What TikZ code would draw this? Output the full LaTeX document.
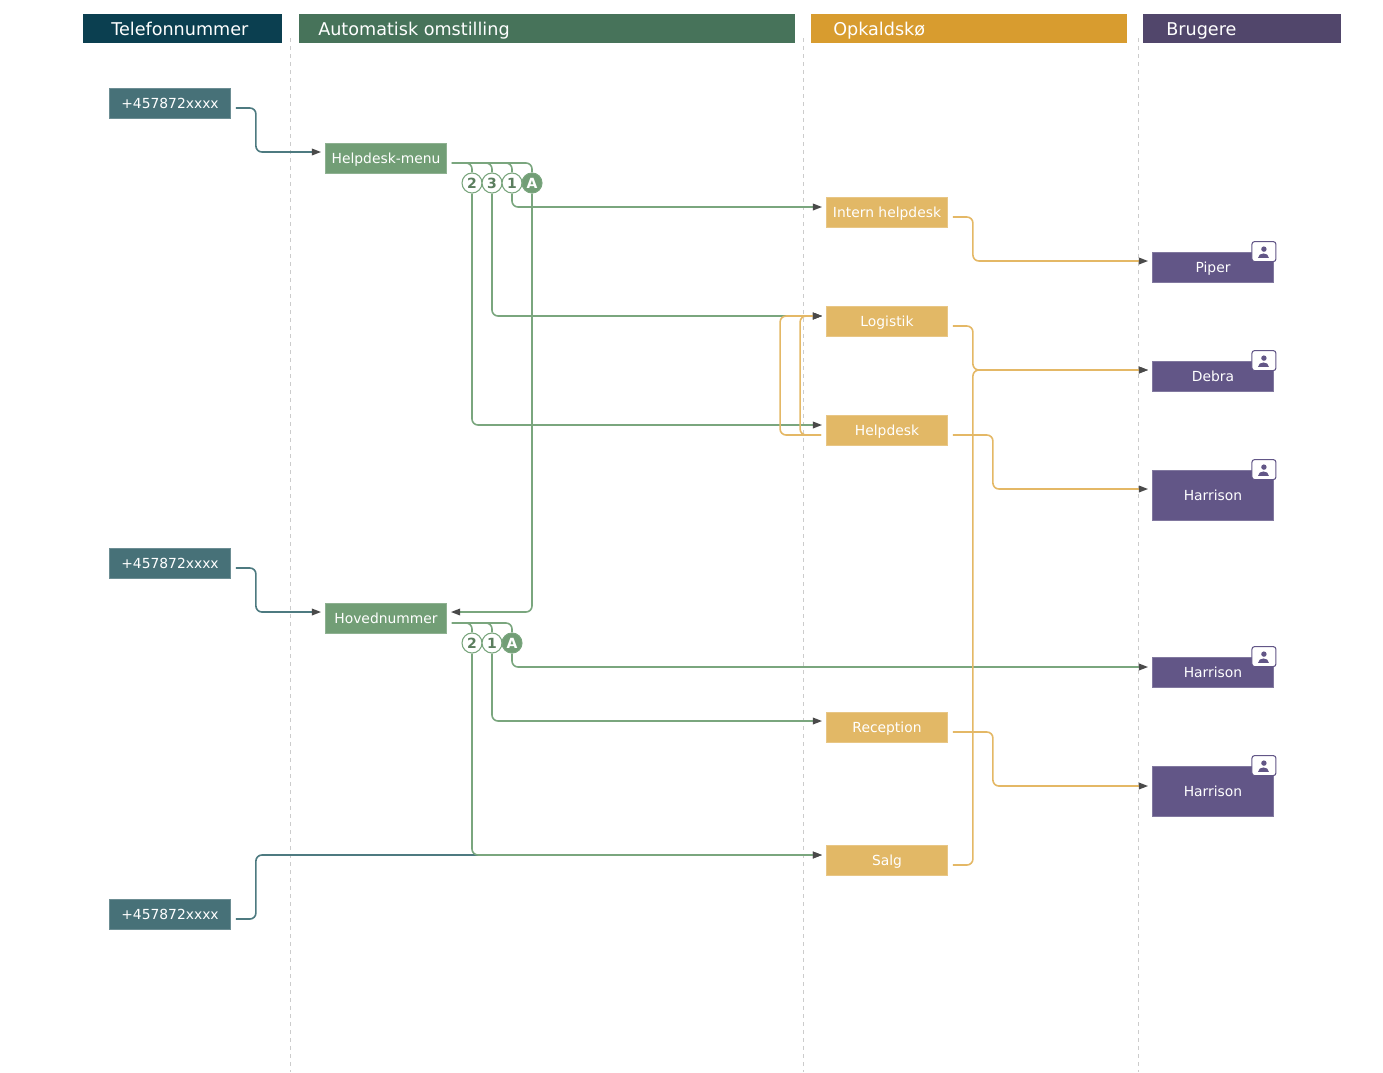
\documentclass[tikz,border=0pt]{standalone}
\usepackage{fontspec}
\setmainfont{DejaVu Sans}
\usetikzlibrary{arrows.meta}

\definecolor{telcol}{HTML}{0B3F50}
\definecolor{autocol}{HTML}{47735A}
\definecolor{queuecol}{HTML}{D89C2F}
\definecolor{usercol}{HTML}{51466B}
\definecolor{phonefill}{HTML}{477178}
\definecolor{menufill}{HTML}{729E76}
\definecolor{queuefill}{HTML}{E2B866}
\definecolor{userfill}{HTML}{625687}
\definecolor{tealline}{HTML}{4D7A80}
\definecolor{greenline}{HTML}{7AA67E}
\definecolor{yellowline}{HTML}{E4B866}
\definecolor{tipcol}{HTML}{4A4A4A}

\tikzset{
	box/.style={rectangle, minimum width=90.75pt, minimum height=22.5pt, inner sep=0pt,
		text=white, font=\fontsize{10.4}{12}\selectfont, line width=0.6pt,
		text height=7.6pt, text depth=0pt},
	phone/.style={box, fill=phonefill, draw=phonefill!80!white},
	menu/.style={box, fill=menufill, draw=menufill!80!white},
	queue/.style={box, fill=queuefill, draw=queuefill!80!white},
	user/.style={box, fill=userfill, draw=userfill!80!white},
	tall/.style={minimum height=37.5pt},
	hdrtext/.style={anchor=west, inner sep=0pt, text=white, font=\fontsize{13.2}{15}\selectfont,
		text height=9.6pt, text depth=0pt},
	badge/.style={circle, minimum size=15pt, inner sep=0pt, draw=greenline, line width=0.8pt,
		fill=white, text=menufill!80!black, font=\bfseries\fontsize{10.5}{12}\selectfont,
		text height=7.6pt, text depth=0pt},
	badgeA/.style={badge, fill=menufill, text=white},
	uicon/.style={rectangle, rounded corners=2pt, minimum width=18pt, minimum height=15pt,
		inner sep=0pt, draw=userfill, line width=0.8pt, fill=white},
	tip/.style={-{Triangle[length=7pt,width=5pt,color=tipcol]}},
	tline/.style={draw=tealline, line width=1.2pt, rounded corners=4.5pt},
	gline/.style={draw=greenline, line width=1.2pt, rounded corners=4.5pt},
	yline/.style={draw=yellowline, line width=1.2pt, rounded corners=4.5pt},
	lane/.style={draw=black!20, dashed, line width=0.6pt}
}

\begin{document}
\begin{tikzpicture}[x=0.75pt, y=-0.75pt]
	\useasboundingbox (0,0) rectangle (1383,1072);

	% lanes
	\draw[lane] (290,38) -- (290,1072);
	\draw[lane] (803,38) -- (803,1072);
	\draw[lane] (1138,38) -- (1138,1072);

	% headers
	\fill[telcol] (83,14) rectangle (282,43);
	\fill[autocol] (299,14) rectangle (795,43);
	\fill[queuecol] (811,14) rectangle (1127,43);
	\fill[usercol] (1143,14) rectangle (1341,43);
	\node[hdrtext] (hTel) at (111,29) {Telefonnummer};
	\node[hdrtext] (hAuto) at (318,29) {Automatisk omstilling};
	\node[hdrtext] (hQueue) at (833,29) {Opkaldskø};
	\node[hdrtext] (hUser) at (1166,29) {Brugere};

	% phone numbers
	\node[phone] (phone1) at (170,103) {+457872xxxx};
	\node[phone] (phone2) at (170,563) {+457872xxxx};
	\node[phone] (phone3) at (170,914) {+457872xxxx};

	% menus
	\node[menu] (hdmenu) at (386,158) {Helpdesk-menu};
	\node[menu] (hoved) at (386,618) {Hovednummer};

	% queues
	\node[queue] (intern) at (887,212) {Intern helpdesk};
	\node[queue] (logistik) at (887,321) {Logistik};
	\node[queue] (helpdesk) at (887,430) {Helpdesk};
	\node[queue] (reception) at (887,727) {Reception};
	\node[queue] (salg) at (887,860) {Salg};

	% users
	\node[user] (piper) at (1213,267) {Piper};
	\node[user] (debra) at (1213,376) {Debra};
	\node[user, tall] (harA) at (1213,495) {Harrison};
	\node[user] (harB) at (1213,672) {Harrison};
	\node[user, tall] (harC) at (1213,791) {Harrison};

	\foreach \u in {piper,debra,harA,harB,harC}{
		\node[uicon] (\u-i) at ([shift={(-10,0)}]\u.north east) {};
		\fill[userfill] ([shift={(0,-2.5)}]\u-i.center) circle (2.7);
		\fill[userfill] ([shift={(-5.5,6)}]\u-i.center) .. controls +(0,-6) and +(0,-6) .. ++(11,0) -- cycle;
	}

	% menu keys
	\node[badge] (m1k2) at (472,183) {2};
	\node[badge] (m1k3) at (492,183) {3};
	\node[badge] (m1k1) at (512,183) {1};
	\node[badgeA] (m1kA) at (532,183) {A};
	\node[badge] (m2k2) at (472,643) {2};
	\node[badge] (m2k1) at (492,643) {1};
	\node[badgeA] (m2kA) at (512,643) {A};

	% phone lines
	\draw[tline, tip] ([shift={(5,5)}]phone1.east) -- ++(20,0) |- ([shift={(-4,-6)}]hdmenu.west);
	\draw[tline, tip] ([shift={(5,5)}]phone2.east) -- ++(20,0) |- ([shift={(-4,-6)}]hoved.west);
	\draw[tline, tip] ([shift={(5,5)}]phone3.east) -- ++(20,0) |- ([shift={(-4,-5)}]salg.west);

	% menu lines
	\foreach \k in {m1k2,m1k3,m1k1,m1kA}
		\draw[gline] ([shift={(5,5)}]hdmenu.east) -| (\k.north);
	\foreach \k in {m2k2,m2k1,m2kA}
		\draw[gline] ([shift={(5,5)}]hoved.east) -| (\k.north);
	\draw[gline, tip] (m1k1.south) |- ([shift={(-4,-5)}]intern.west);
	\draw[gline, tip] (m1k3.south) |- ([shift={(-4,-5)}]logistik.west);
	\draw[gline, tip] (m1k2.south) |- ([shift={(-4,-5)}]helpdesk.west);
	\draw[gline, tip] (m1kA.south) |- ([shift={(4,-6)}]hoved.east);
	\draw[gline, tip] (m2kA.south) |- ([shift={(-4,-5)}]harB.west);
	\draw[gline, tip] (m2k1.south) |- ([shift={(-4,-6)}]reception.west);
	\draw[gline, tip] (m2k2.south) |- ([shift={(-4,-5)}]salg.west);

	% overflow
	\draw[yline, tip] ([shift={(-5,5)}]helpdesk.west) -- ++(-41,0) |- ([shift={(-4,-5)}]logistik.west);
	\draw[yline, tip] ([shift={(-5,5)}]helpdesk.west) -- ++(-21,0) |- ([shift={(-4,-5)}]logistik.west);

	% queue lines
	\draw[yline, tip] ([shift={(5,5)}]intern.east) -- ++(20,0) |- ([shift={(-4,-6)}]piper.west);
	\draw[yline, tip] ([shift={(5,5)}]logistik.east) -- ++(20,0) |- ([shift={(-4,-6)}]debra.west);
	\draw[yline, tip] ([shift={(5,5)}]helpdesk.east) -- ++(40,0) |- ([shift={(-4,-6)}]harA.west);
	\draw[yline, tip] ([shift={(5,5)}]reception.east) -- ++(40,0) |- ([shift={(-4,-5)}]harC.west);
	\draw[yline, tip] ([shift={(5,5)}]salg.east) -- ++(20,0) |- ([shift={(-4,-6)}]debra.west);
\end{tikzpicture}
\end{document}
